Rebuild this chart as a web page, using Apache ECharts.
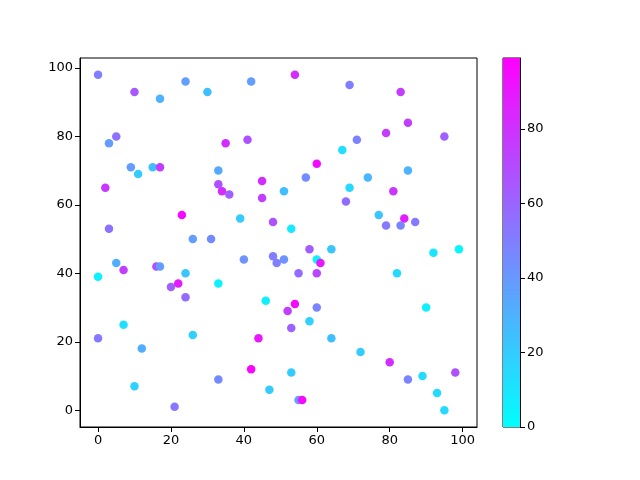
<!DOCTYPE html>
<html>
<head>
<meta charset="utf-8">
<script src="https://cdn.jsdelivr.net/npm/echarts@6/dist/echarts.min.js"></script>
<style>html,body{margin:0;padding:0;background:#fff}#c{width:640px;height:480px}</style>
</head>
<body>
<div id="c"></div>
<script>
var xs = [0,10,17,24,30,42,5,3,35,41,9,11,15,17,2,33,33,34,36,45,45,23,39,48,3,26,31,54,69,83,85,79,95,71,67,60,57,74,85,51,69,81,68,77,84,79,83,87,53,48,49,5,7,0,16,17,40,24,20,22,24,33,46,7,0,12,26,44,42,33,10,47,21,58,64,60,61,51,55,60,92,99,82,54,52,60,58,53,90,64,72,80,53,85,89,98,93,95,55,56];
var ys = [98,93,91,96,93,96,80,78,78,79,71,69,71,71,65,70,66,64,63,67,62,57,56,55,53,50,50,98,95,93,84,81,80,79,76,72,68,68,70,64,65,64,61,57,56,54,54,55,53,45,43,43,41,39,42,42,44,40,36,37,33,37,32,25,21,18,22,21,12,9,7,6,1,47,47,44,43,44,40,40,46,47,40,31,29,30,26,24,30,21,17,14,11,9,10,11,5,0,3,3];
var cs = [50,65,30,38,25,38,55,38,82,68,38,20,25,75,78,33,68,82,62,82,75,95,20,68,55,38,45,82,50,75,75,75,62,48,12,95,45,28,30,25,15,78,57,22,88,52,48,52,8,50,50,32,75,5,68,38,42,22,62,88,57,5,6,12,52,32,18,90,97,45,18,20,52,63,22,6,90,42,57,72,10,3,14,95,75,48,18,62,6,25,20,82,20,48,14,68,14,14,38,95];
var xTicks = [0,20,40,60,80,100];
var yTicks = [0,20,40,60,80,100];
var cTicks = [0,20,40,60,80];
var cbarMax = 99;

var pts = xs.map(function(x,i){return [x, ys[i], cs[i]];});
var font = {fontFamily:'DejaVu Sans', fontSize:13, color:'#000'};
var chart = echarts.init(document.getElementById('c'), null, {renderer:'canvas'});
chart.setOption({
  animation:false,
  backgroundColor:'#fff',
  grid:[
    {left:80, top:58, width:397, height:369, show:true, borderColor:'#000', borderWidth:1, containLabel:false},
    {left:503, top:58, width:17, height:369, show:true, borderColor:'#000', borderWidth:1, containLabel:false}
  ],
  xAxis:[
    {type:'value', gridIndex:0, min:-4.95, max:103.95,
     axisLine:{show:true, onZero:false, lineStyle:{color:'#000'}},
     axisTick:{show:true, length:5, lineStyle:{color:'#000'}, customValues:xTicks},
     axisLabel:Object.assign({customValues:xTicks, margin:7}, font),
     splitLine:{show:false}},
    {type:'category', gridIndex:1, data:['c'], show:false}
  ],
  yAxis:[
    {type:'value', gridIndex:0, min:-4.9, max:102.9,
     axisLine:{show:true, onZero:false, lineStyle:{color:'#000'}},
     axisTick:{show:true, length:5, lineStyle:{color:'#000'}, customValues:yTicks},
     axisLabel:Object.assign({customValues:yTicks, margin:7}, font),
     splitLine:{show:false}},
    {type:'value', gridIndex:1, position:'right', min:0, max:cbarMax,
     axisLine:{show:true, lineStyle:{color:'#000'}},
     axisTick:{show:true, length:5, lineStyle:{color:'#000'}, customValues:cTicks},
     axisLabel:Object.assign({customValues:cTicks, margin:7}, font),
     splitLine:{show:false}}
  ],
  visualMap:{show:false, type:'continuous', seriesIndex:0, dimension:2, min:0, max:cbarMax,
    inRange:{color:['#00ffff','#ff00ff']}},
  series:[
    {type:'scatter', xAxisIndex:0, yAxisIndex:0, symbolSize:8.5, data:pts, itemStyle:{opacity:1}},
    {type:'bar', xAxisIndex:1, yAxisIndex:1, data:[cbarMax], barWidth:'100%', barCategoryGap:'0%',
     itemStyle:{color:{type:'linear', x:0, y:1, x2:0, y2:0,
       colorStops:[{offset:0, color:'#00ffff'},{offset:1, color:'#ff00ff'}]}}}
  ]
});
</script>
</body>
</html>
